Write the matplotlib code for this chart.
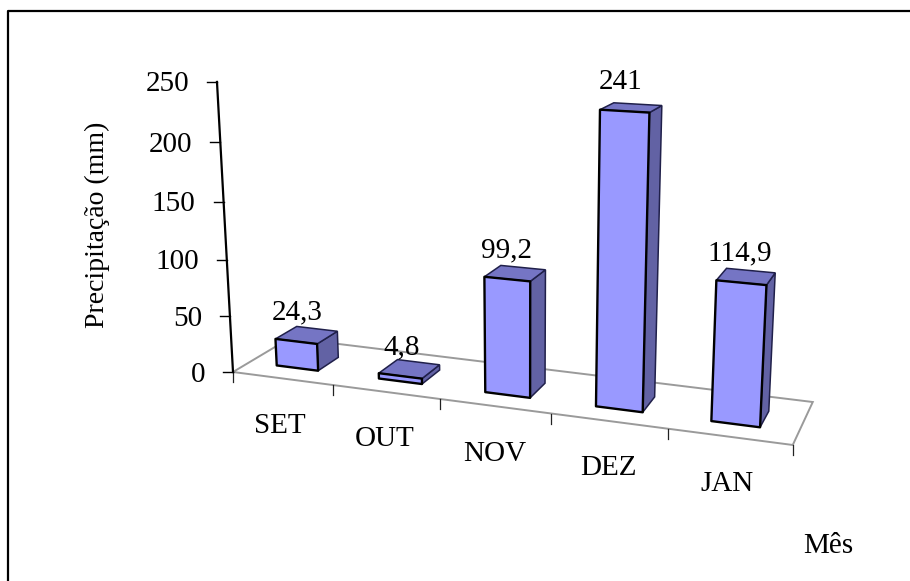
# -*- coding: utf-8 -*-
"""
Precipitacao mensal: colunas em 3D com perspectiva, desenhadas em eixos 2D
a partir de uma projecao homogenea simples.
"""

import numpy as np
import matplotlib
matplotlib.use('Agg')
import matplotlib.pyplot as plt
from matplotlib.patches import Polygon

plt.rcParams['font.family'] = ['Liberation Serif', 'DejaVu Serif']

months = ['SET', 'OUT', 'NOV', 'DEZ', 'JAN']
precipitation = [24.3, 4.8, 99.2, 241, 114.9]
valueLabels = ['24,3', '4,8', '99,2', '241', '114,9']
yTicks = [0, 50, 100, 150, 200, 250]
xTitle = 'Mês'
yTitle = 'Precipitação (mm)'

# pontos de fuga e origem da projecao, em pixels da figura
origin = np.array([233.0, 372.0, 1.0])
vanishX = np.array([-4890.0, -296.0, 1.0])
vanishD = np.array([1055.0, -118.0, 1.0])
vanishZ = np.array([525.0, 5660.0, 1.0])
scaleX = -0.0197
scaleD = 0.0745
scaleZ = -0.052 / 250

FRONT = '#9999FF'
TOP = '#7575C4'
SIDE = '#6262A4'
FLOOR = '#9A9A9A'
FONT_SIZE = 21


def project(x, d, z):
    # colunas mais a direita ficam mais perto e parecem um pouco mais altas
    zEff = z * (1 + 0.006 * x)
    h = origin + x * scaleX * vanishX + d * scaleD * vanishD + zEff * scaleZ * vanishZ
    return h[0] / h[2], h[1] / h[2]


def drawFloor(ax, n):
    corners = [project(0, 0, 0), project(n, 0, 0), project(n, 1, 0), project(0, 1, 0)]
    ax.add_patch(Polygon(corners, closed=True, fill=False, edgecolor=FLOOR, linewidth=1.4, zorder=1))
    for i in range(n + 1):
        # as marcas internas ficam um pouco antes da divisao entre categorias
        shift = 0.03 if 0 < i < n else 0
        px, py = project(i - shift, 0, 0)
        ax.plot([px, px], [py, py + 10], color='#222222', linewidth=0.9, zorder=2)


def drawValueAxis(ax):
    x0, y0 = project(0, 0, yTicks[0])
    x1, y1 = project(0, 0, yTicks[-1])
    ax.plot([x0, x1], [y0, y1], color='black', linewidth=1.6, zorder=3)
    for tick in yTicks:
        px, py = project(0, 0, tick)
        ax.plot([px - 10, px], [py, py], color='black', linewidth=1.0, zorder=3)
        ax.text(px - 28, py + 2.5, str(tick), ha='right', va='center', fontsize=FONT_SIZE, color='black')


def drawBar(ax, i, value, label, dFront=0.28, dBack=0.66):
    xl, xr = i + 0.27, i + 0.68
    front = [project(xl, dFront, 0), project(xr, dFront, 0), project(xr, dFront, value), project(xl, dFront, value)]
    side = [project(xr, dFront, 0), project(xr, dBack, 0), project(xr, dBack, value), project(xr, dFront, value)]
    top = [project(xl, dFront, value), project(xr, dFront, value), project(xr, dBack, value), project(xl, dBack, value)]
    # arestas de fundo mais finas, frente bem marcada
    ax.add_patch(Polygon(side, closed=True, facecolor=SIDE, edgecolor='#20204A', linewidth=1.1, zorder=4))
    ax.add_patch(Polygon(top, closed=True, facecolor=TOP, edgecolor='#20204A', linewidth=1.1, zorder=4))
    ax.add_patch(Polygon(front, closed=True, facecolor=FRONT, edgecolor='black', linewidth=1.7,
                         joinstyle='round', zorder=5))
    px, py = project(i + 0.475, dFront, value)
    ax.text(px + 1 - 0.02 * value, py - 29, label, ha='center', va='center',
            fontsize=FONT_SIZE, color='black', zorder=6)


def main():
    fig = plt.figure(figsize=(9.1, 5.81), dpi=100)
    ax = fig.add_axes([0, 0, 1, 1])
    ax.set_xlim(0, 910)
    ax.set_ylim(581, 0)
    ax.axis('off')

    # moldura: so os lados esquerdo e superior aparecem
    ax.plot([8, 8, 910], [581, 11, 11], color='black', linewidth=1.6, zorder=1)

    drawFloor(ax, len(months))
    drawValueAxis(ax)

    for i, value in enumerate(precipitation):
        drawBar(ax, i, value, valueLabels[i])

    for i, month in enumerate(months):
        px, py = project(i + 0.5, 0, 0)
        ax.text(px - 4, py + 47, month, ha='center', va='center', fontsize=FONT_SIZE, color='black')

    ax.text(97, 225, yTitle, rotation=90, ha='center', va='center', fontsize=20, color='black')
    ax.text(828, 546, xTitle, ha='center', va='center', fontsize=FONT_SIZE, color='black')

    fig.savefig('out.png', dpi=100)


if __name__ == "__main__":
    main()
